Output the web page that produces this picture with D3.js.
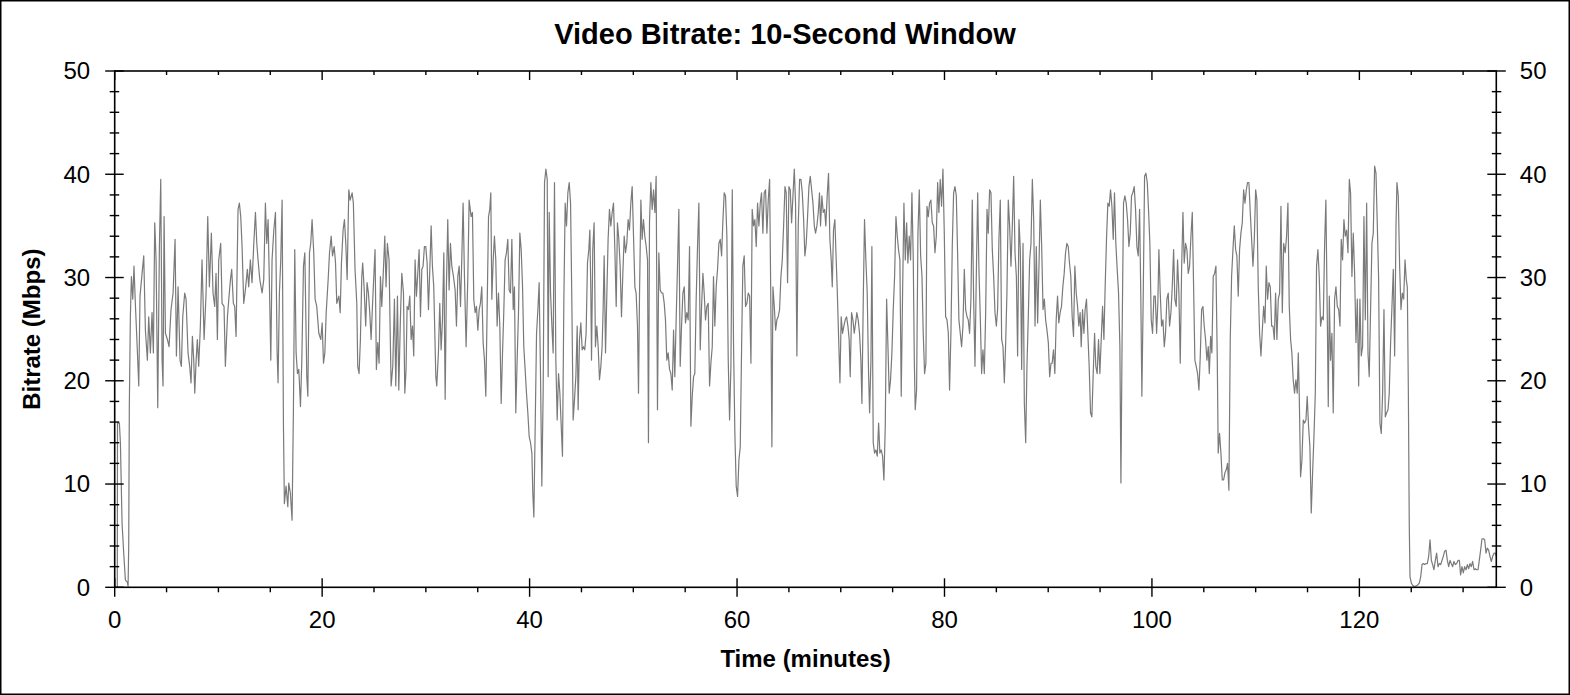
<!DOCTYPE html>
<html>
<head>
<meta charset="utf-8">
<script src="https://cdnjs.cloudflare.com/ajax/libs/d3/7.8.5/d3.min.js"></script>
<style>
  body { margin: 0; background: #fff; }
  svg text { font-family: Arial, "Liberation Sans", sans-serif; fill: #000; }
</style>
</head>
<body>
<svg id="chart" width="1570" height="695"></svg>
<script>
// chart texts
const chartTitle = "Video Bitrate: 10-Second Window";
const xLabel = "Time (minutes)";
const yLabel = "Bitrate (Mbps)";

// axes
const xMax = 133.2;               // minutes at the right edge of the plot
const yMax = 50;                  // Mbps at the top
const xMajorTicks = [0, 20, 40, 60, 80, 100, 120];
const xMinorTicks = [5, 10, 15, 25, 30, 35, 45, 50, 55, 65, 70, 75, 85, 90, 95, 105, 110, 115, 125, 130];
const yMajorTicks = [0, 10, 20, 30, 40, 50];
const yMinorTicks = [2, 4, 6, 8, 12, 14, 16, 18, 22, 24, 26, 28, 32, 34, 36, 38, 42, 44, 46, 48];

// [minute, Mbps]
const bitrate = [
  [0.25,0],[0.27,15.9],[0.45,15.9],[0.55,14.0],[0.71,6.2],[0.87,3.3],[1.03,0.7],[1.22,0.5],[1.29,0.1],[1.35,3.9],
  [1.41,17.5],[1.51,26.2],[1.61,30.1],[1.74,27.9],[1.86,31.1],[1.99,27.5],[2.15,23.7],[2.32,19.5],[2.44,28.2],[2.64,30.4],
  [2.80,32.1],[2.96,24.9],[3.15,22.0],[3.28,26.2],[3.44,22.7],[3.60,26.6],[3.73,22.7],[3.86,35.3],[3.99,31.7],[4.15,17.4],
  [4.31,33.0],[4.44,39.5],[4.57,22.0],[4.66,19.5],[4.76,35.9],[4.89,24.6],[5.08,24.0],[5.24,23.3],[5.43,26.9],[5.63,28.5],
  [5.82,33.7],[5.95,22.4],[6.11,29.1],[6.30,22.0],[6.43,21.4],[6.56,26.2],[6.75,28.5],[6.88,27.9],[7.07,22.7],[7.23,21.4],
  [7.36,19.8],[7.49,24.3],[7.62,22.0],[7.72,18.8],[7.85,22.0],[7.97,24.0],[8.10,21.4],[8.26,25.3],[8.42,31.7],[8.62,24.0],
  [8.81,28.5],[8.97,35.9],[9.13,29.1],[9.32,34.3],[9.48,28.5],[9.64,27.2],[9.77,30.4],[9.90,24.0],[10.03,31.7],[10.22,33.3],
  [10.35,27.5],[10.54,27.2],[10.67,21.4],[10.87,26.2],[11.00,27.9],[11.16,29.8],[11.28,30.8],[11.44,27.5],[11.57,27.2],[11.70,24.3],
  [11.89,36.6],[12.02,37.2],[12.15,35.9],[12.28,33.0],[12.44,27.5],[12.60,28.8],[12.79,30.8],[12.92,29.1],[13.08,31.7],[13.24,29.5],
  [13.41,33.3],[13.57,36.3],[13.70,33.3],[13.82,31.7],[13.99,29.8],[14.21,28.5],[14.37,29.8],[14.53,37.2],[14.66,33.3],[14.79,35.6],
  [14.92,29.1],[15.05,22.0],[15.17,31.7],[15.34,34.6],[15.50,36.3],[15.66,22.7],[15.75,19.8],[15.88,28.5],[16.01,31.7],[16.14,37.5],
  [16.27,15.6],[16.36,8.1],[16.52,9.8],[16.69,7.8],[16.78,10.1],[16.94,9.1],[17.10,6.5],[17.23,17.2],[17.36,32.7],[17.49,22.7],
  [17.62,20.7],[17.75,21.1],[17.91,17.5],[18.04,22.0],[18.20,31.1],[18.33,32.4],[18.52,20.4],[18.62,18.5],[18.78,32.4],[18.90,33.3],
  [19.03,35.6],[19.19,32.4],[19.32,27.9],[19.48,27.2],[19.68,24.6],[19.87,24.0],[20.0,25.6],[20.13,21.7],[20.26,22.7],[20.39,26.6],
  [20.58,29.8],[20.71,32.4],[20.87,34.0],[21.0,32.1],[21.16,33.0],[21.29,31.4],[21.41,27.5],[21.61,28.2],[21.74,26.6],[21.86,31.4],
  [22.02,34.6],[22.15,35.6],[22.28,33.3],[22.41,29.8],[22.57,38.5],[22.70,37.5],[22.89,38.2],
  [23.01,37.2],[23.17,30.8],[23.34,27.5],[23.43,21.4],[23.56,20.7],[23.69,24.0],[23.82,30.1],[23.91,31.4],[24.04,29.1],[24.20,25.3],
  [24.33,29.5],[24.46,28.5],[24.59,26.6],[24.72,24.0],[24.85,27.2],[24.98,30.1],[25.10,32.7],[25.23,21.1],[25.36,23.7],[25.49,21.7],
  [25.62,30.1],[25.75,27.2],[25.91,30.8],[26.04,34.0],[26.16,29.1],[26.29,33.3],[26.45,31.7],[26.55,25.3],[26.65,19.5],[26.81,21.4],
  [26.97,27.9],[27.10,19.5],[27.26,28.2],[27.39,19.1],[27.55,26.2],[27.68,30.4],[27.84,28.5],[27.97,18.8],[28.09,21.1],[28.19,27.2],
  [28.32,26.9],[28.45,28.2],[28.58,24.0],[28.71,25.3],[28.83,22.4],[28.96,31.7],[29.09,28.2],[29.22,30.4],[29.35,32.7],[29.48,26.2],
  [29.61,30.8],[29.73,31.1],[29.86,33.0],[29.99,33.0],[30.12,31.4],[30.25,26.9],[30.38,30.8],[30.51,35.0],[30.63,31.1],[30.76,29.1],
  [30.96,20.4],[31.05,19.5],[31.21,22.7],[31.34,27.5],[31.47,23.0],[31.60,25.9],[31.73,32.4],[31.86,18.2],[31.98,29.1],[32.11,35.6],
  [32.24,28.8],[32.37,33.3],[32.50,31.1],[32.66,30.1],[32.82,28.8],[32.95,25.3],[33.08,30.1],[33.21,31.1],[33.34,27.2],[33.46,31.7],
  [33.59,37.2],[33.72,30.1],[33.88,23.3],[34.04,29.8],[34.17,37.5],[34.36,35.9],[34.49,36.3],[34.62,27.9],[34.75,26.6],[34.88,27.2],
  [35.01,24.9],[35.14,26.9],[35.26,27.5],[35.39,29.1],[35.52,23.7],[35.65,22.0],[35.78,18.5],[35.91,27.2],[36.04,35.9],[36.16,36.6],
  [36.26,38.2],[36.36,27.9],[36.49,31.7],[36.61,34.0],[36.74,31.7],[36.87,25.3],[37.0,28.5],[37.13,25.3],[37.26,17.8],[37.39,22.7],
  [37.51,26.6],[37.64,31.7],[37.77,32.4],[37.90,33.7],[38.03,28.8],[38.16,28.5],[38.29,33.7],[38.42,26.9],[38.54,29.1],[38.67,16.9],
  [38.80,22.0],[38.93,26.6],[39.06,34.3],[39.19,32.7],[39.32,29.1],[39.44,23.3],[39.57,21.1],[39.70,18.8],[39.83,16.9],[39.96,14.6],
  [40.09,14.0],[40.22,13.0],[40.31,9.1],[40.41,6.8],[40.54,15.6],[40.67,24.6],[40.80,26.9],[40.92,29.5],[41.05,20.7],[41.18,9.8],
  [41.31,19.1],[41.44,39.2],[41.57,40.5],[41.70,39.5],[41.79,20.4],[41.89,36.3],[42.02,28.5],[42.15,25.3],[42.27,22.7],[42.40,39.2],
  [42.53,22.0],[42.66,16.2],[42.79,20.7],[42.92,18.8],[43.05,15.6],[43.17,12.7],[43.30,27.5],[43.43,37.2],[43.56,35.0],[43.69,38.2],
  [43.82,39.2],[43.95,37.2],[44.07,27.9],[44.20,16.2],[44.33,18.2],[44.46,20.4],[44.59,25.3],
  [44.68,17.2],[44.81,24.0],[44.94,25.6],[45.07,23.0],[45.19,23.3],[45.32,23.0],[45.45,24.6],[45.58,31.4],[45.71,32.7],[45.81,34.6],
  [45.90,28.8],[45.97,22.0],[46.09,32.7],[46.22,35.3],[46.35,23.3],[46.48,25.3],[46.61,23.3],[46.74,20.1],[46.87,21.4],[46.99,23.3],
  [47.09,26.9],[47.19,32.1],[47.32,22.7],[47.45,28.5],[47.57,33.7],[47.70,36.6],[47.83,35.0],[47.96,36.3],[48.09,37.2],[48.22,32.7],
  [48.35,27.2],[48.47,35.3],[48.60,33.7],[48.73,31.1],[48.86,26.2],[48.99,30.4],[49.12,34.0],[49.25,32.4],[49.37,33.3],[49.50,35.6],
  [49.63,34.6],[49.76,37.2],[49.89,38.8],[50.02,34.0],[50.15,29.1],[50.27,28.5],[50.40,25.3],[50.50,18.8],[50.60,28.5],[50.73,37.5],
  [50.85,33.7],[50.98,35.6],[51.11,34.0],[51.24,33.0],[51.37,31.7],[51.46,14.0],[51.56,35.3],[51.69,39.2],[51.82,36.6],[51.95,38.5],
  [52.08,36.3],[52.20,39.8],[52.33,17.2],[52.46,32.4],[52.59,28.8],[52.72,28.5],[52.85,28.5],[52.98,27.5],[53.10,25.9],[53.23,22.0],
  [53.36,22.7],[53.49,21.1],[53.62,20.7],[53.75,19.1],[53.88,24.9],[54.0,20.4],[54.13,25.9],[54.26,31.1],[54.39,36.6],[54.52,21.4],
  [54.65,25.3],[54.78,28.5],[54.91,29.1],[55.03,25.6],[55.16,26.6],[55.29,25.9],[55.42,33.0],[55.55,15.6],[55.68,18.5],[55.81,20.4],
  [55.93,20.7],[56.06,27.9],[56.19,33.0],[56.32,37.2],[56.45,23.0],[56.58,27.2],[56.71,30.4],[56.83,28.5],[56.96,25.9],[57.09,27.2],
  [57.22,27.5],[57.35,19.5],[57.48,21.7],[57.61,23.3],[57.73,30.1],[57.86,25.3],[57.99,29.1],[58.12,30.8],[58.25,33.3],[58.38,33.7],
  [58.51,32.1],[58.63,35.3],[58.76,38.2],[58.89,37.9],[59.02,34.0],[59.15,22.0],[59.28,16.2],[59.41,21.4],[59.54,38.5],[59.66,23.7],
  [59.79,14.9],[59.92,9.8],[60.05,8.8],[60.18,12.3],[60.31,13.6],[60.44,23.3],[60.56,31.1],[60.69,32.1],[60.82,27.2],[60.95,27.5],
  [61.08,28.5],[61.21,28.2],[61.34,21.7],[61.46,36.6],[61.59,35.0],[61.72,35.6],[61.85,33.0],[61.98,37.2],[62.11,35.0],[62.24,37.2],
  [62.36,38.2],[62.49,34.3],[62.62,38.2],[62.75,38.5],[62.88,34.3],[63.01,37.5],[63.14,39.5],[63.27,26.2],[63.36,13.6],[63.46,29.1],
  [63.59,27.2],[63.72,24.9],[63.84,25.9],[63.97,26.2],[64.10,26.9],[64.23,30.1],[64.36,31.7],[64.49,35.0],[64.62,38.8],[64.74,38.2],
  [64.87,29.5],[65.0,38.8],[65.13,38.5],[65.26,35.3],[65.39,37.9],[65.52,40.5],[65.64,37.2],[65.77,22.4],[65.90,35.0],[66.03,39.5],
  [66.16,39.5],[66.29,38.2],[66.42,35.6],[66.54,32.1],[66.67,33.3],[66.80,35.9],[66.93,38.8],[67.06,39.8],[67.19,38.5],[67.32,37.2],
  [67.45,35.0],[67.57,34.3],[67.70,35.0],[67.83,36.3],
  [67.95,38.2],[68.05,35.0],[68.18,37.9],[68.31,36.3],[68.44,36.6],[68.56,35.0],[68.69,37.9],[68.82,40.1],[68.95,33.7],[69.08,31.7],
  [69.18,29.1],[69.30,34.6],[69.43,35.6],[69.56,31.7],[69.66,28.8],[69.79,24.3],[69.92,19.8],[70.04,26.2],[70.17,24.6],[70.30,25.3],
  [70.43,25.9],[70.56,26.2],[70.69,25.3],[70.81,24.0],[70.91,20.4],[71.04,26.6],[71.17,25.9],[71.30,24.6],[71.43,25.6],[71.55,26.6],
  [71.68,25.9],[71.81,24.6],[71.94,22.0],[72.04,17.8],[72.17,27.9],[72.29,35.6],[72.42,31.7],[72.55,28.5],[72.68,20.7],[72.78,16.9],
  [72.91,22.0],[73.0,33.0],[73.13,14.0],[73.26,13.0],[73.39,13.3],[73.52,12.7],[73.65,15.9],[73.77,13.0],[73.90,13.3],[74.03,12.7],
  [74.16,10.4],[74.29,15.6],[74.42,27.9],[74.55,23.3],[74.67,18.8],[74.80,20.1],[74.93,22.7],[75.06,26.9],[75.19,30.1],[75.32,35.9],
  [75.45,34.0],[75.57,32.7],[75.70,31.7],[75.83,18.5],[75.96,28.5],[76.09,37.2],[76.22,31.7],[76.35,35.3],[76.47,31.4],[76.60,34.0],
  [76.73,31.7],[76.86,38.2],[76.99,31.7],[77.09,22.0],[77.18,17.2],[77.31,19.1],[77.44,34.3],[77.57,38.5],[77.70,32.1],[77.83,30.1],
  [77.95,24.6],[78.08,20.7],[78.21,21.7],[78.31,36.9],[78.44,35.9],[78.56,37.2],[78.69,37.5],[78.82,35.3],[78.95,35.0],[79.08,32.4],
  [79.21,34.0],[79.34,39.2],[79.46,36.3],[79.59,39.5],[79.72,36.9],[79.85,40.5],[79.98,34.3],[80.11,26.2],[80.24,25.9],[80.37,24.6],
  [80.49,19.1],[80.62,24.6],[80.75,33.0],[80.88,38.2],[81.01,38.8],[81.14,37.9],[81.27,32.1],[81.39,25.9],[81.52,24.6],[81.65,23.3],
  [81.78,25.3],[81.91,30.8],[82.04,26.9],[82.17,26.2],[82.29,25.9],[82.42,24.6],[82.55,27.9],[82.68,37.5],[82.81,27.9],[82.94,21.4],
  [83.07,30.4],[83.20,38.2],[83.32,30.8],[83.45,26.2],[83.58,20.7],[83.71,23.0],[83.84,20.7],[83.97,26.6],[84.10,36.6],[84.22,34.3],
  [84.35,38.5],[84.48,38.2],[84.61,32.7],[84.74,30.1],[84.87,26.6],[85.0,25.3],[85.12,26.9],[85.25,33.7],[85.38,37.5],[85.51,24.0],
  [85.64,23.3],[85.77,19.8],[85.90,23.7],[86.02,28.5],[86.15,37.5],[86.28,35.0],[86.41,31.1],[86.54,35.0],[86.67,39.8],[86.80,32.4],
  [86.93,30.1],[87.05,22.4],[87.18,35.6],[87.31,32.7],[87.44,21.1],[87.57,33.3],[87.70,17.8],[87.83,14.0],[87.95,21.4],[88.08,26.2],
  [88.21,31.7],[88.34,33.3],[88.47,39.5],[88.60,35.6],[88.73,25.3],[88.85,33.0],[88.98,25.6],[89.11,31.1],[89.24,37.5],[89.37,33.0],
  [89.50,26.9],[89.63,27.9],[89.75,25.9],[89.88,24.9],[90.01,23.7],[90.14,20.4],[90.27,21.7],
  [90.38,21.7],[90.51,23.0],[90.64,20.7],[90.77,25.9],[90.90,28.2],[91.02,25.6],[91.15,26.6],[91.28,27.2],[91.41,29.1],[91.54,30.4],
  [91.67,32.4],[91.80,33.3],[91.93,33.0],[92.05,31.4],[92.18,30.1],[92.31,26.2],[92.44,24.3],[92.57,31.1],[92.70,28.5],[92.83,27.2],
  [92.95,25.3],[93.08,26.6],[93.18,23.3],[93.31,26.9],[93.44,24.6],[93.56,26.9],[93.69,27.9],[93.82,24.6],[93.95,21.4],[94.08,16.9],
  [94.21,16.5],[94.34,20.7],[94.47,24.6],[94.59,21.4],[94.72,20.7],[94.85,24.0],[94.98,20.7],[95.11,24.0],[95.24,27.2],[95.37,24.0],
  [95.49,29.1],[95.62,33.7],[95.75,37.2],[95.88,36.9],[96.01,38.5],[96.14,36.9],[96.27,33.7],[96.39,38.2],[96.52,33.3],[96.65,30.8],
  [96.78,28.5],[96.91,23.3],[97.01,10.1],[97.13,24.9],[97.26,37.2],[97.39,37.9],[97.52,37.2],[97.65,35.6],[97.78,33.0],[97.91,34.3],
  [98.03,37.9],[98.16,38.2],[98.29,38.8],[98.42,36.6],[98.55,33.0],[98.68,32.1],[98.81,36.6],[98.93,27.9],[99.03,18.5],[99.16,28.2],
  [99.29,39.8],[99.42,40.1],[99.55,39.2],[99.67,36.6],[99.80,33.3],[99.93,25.9],[100.06,24.6],[100.19,28.2],[100.32,28.2],[100.45,24.6],
  [100.57,27.5],[100.67,32.7],[100.80,28.5],[100.93,25.3],[101.06,25.9],[101.19,23.3],[101.31,24.6],[101.44,27.9],[101.57,28.5],[101.70,25.3],
  [101.83,26.6],[101.96,29.1],[102.09,32.7],[102.21,27.9],[102.34,27.2],[102.47,31.7],[102.60,28.5],[102.73,21.7],[102.86,30.8],[102.99,36.3],
  [103.11,31.4],[103.24,33.3],[103.37,32.7],[103.50,30.4],[103.63,31.1],[103.76,34.0],[103.89,36.3],[104.01,29.5],[104.14,22.0],[104.27,21.4],
  [104.40,20.7],[104.53,19.1],[104.66,22.4],[104.79,26.9],[104.92,27.2],[105.04,25.3],[105.17,24.0],[105.30,22.0],[105.43,23.3],[105.53,20.7],
  [105.66,24.3],[105.78,22.7],[105.91,30.1],[106.04,30.4],[106.17,31.1],[106.30,22.0],[106.39,13.0],[106.52,14.9],[106.65,13.0],[106.78,10.4],
  [106.91,10.4],[107.04,11.1],[107.17,11.4],[107.29,12.0],[107.42,9.4],[107.55,24.0],[107.68,30.1],[107.81,32.7],[107.94,35.0],[108.07,32.7],
  [108.19,32.1],[108.32,28.2],[108.45,32.7],[108.58,34.3],[108.71,35.3],[108.84,38.5],[108.97,37.2],[109.10,38.5],[109.22,39.2],[109.35,39.2],
  [109.48,36.3],[109.61,33.7],[109.74,31.1],[109.87,33.7],[110.0,38.5],[110.12,37.5],[110.25,29.1],[110.38,24.6],[110.51,22.4],[110.64,24.9],
  [110.77,27.2],[110.90,25.6],[111.02,31.1],[111.15,27.9],[111.28,29.5],[111.41,29.1],[111.54,25.3],[111.67,25.3],[111.80,24.0],[111.92,28.5],
  [112.05,24.0],[112.18,27.9],[112.31,28.5],[112.44,36.9],[112.57,26.6],[112.70,33.3],
  [112.85,32.4],[112.98,34.0],[113.11,37.2],[113.24,27.2],[113.37,24.0],[113.49,22.7],[113.62,20.1],[113.75,18.8],[113.88,20.1],[114.01,18.8],
  [114.11,22.7],[114.20,18.8],[114.33,10.7],[114.46,12.3],[114.59,16.2],[114.72,15.9],[114.85,16.2],[114.97,18.5],[115.10,15.6],[115.23,13.6],
  [115.36,7.2],[115.49,11.1],[115.62,14.6],[115.75,18.8],[115.87,31.1],[116.0,32.7],[116.13,30.1],[116.26,25.3],[116.39,26.2],[116.52,25.9],
  [116.65,33.3],[116.77,37.5],[116.90,26.6],[117.0,17.5],[117.10,28.2],[117.22,22.0],[117.35,24.6],[117.48,16.9],[117.61,27.9],[117.74,29.1],
  [117.87,27.2],[118.0,26.9],[118.13,25.3],[118.25,33.7],[118.38,31.7],[118.51,35.6],[118.64,34.0],[118.77,34.6],[118.90,32.4],[119.03,39.5],
  [119.15,38.2],[119.28,30.1],[119.41,34.3],[119.54,30.4],[119.67,23.7],[119.80,27.9],[119.93,19.5],[120.05,27.9],[120.18,22.4],[120.31,23.3],
  [120.44,35.9],[120.57,25.9],[120.70,37.2],[120.83,22.7],[120.95,20.4],[121.08,26.9],[121.21,33.3],[121.34,34.3],[121.47,40.8],[121.60,40.1],
  [121.73,35.0],[121.85,30.1],[121.98,15.9],[122.11,14.9],[122.24,18.8],[122.37,26.9],[122.50,16.5],[122.63,16.9],[122.76,17.2],[122.88,18.8],
  [123.01,23.7],[123.14,27.2],[123.27,30.8],[123.40,22.4],[123.53,35.0],[123.62,39.2],[123.75,37.9],[123.88,31.1],[124.01,26.9],[124.14,28.5],
  [124.27,27.9],[124.40,31.7],[124.52,29.8],[124.62,29.1],[124.72,19.1],[124.81,5.9],[124.88,1.0],[125.01,0.4],[125.13,0.2],[125.26,0.1],
  [125.39,0.1],[125.58,0.2],[125.78,0.4],[125.91,1.0],[126.04,2.2],[126.16,2.3],[126.29,2.2],[126.42,2.3],[126.55,2.3],[126.68,3.0],
  [126.81,4.6],[126.94,2.6],[127.06,2.2],[127.19,1.7],[127.32,2.6],[127.45,3.3],[127.58,2.0],[127.71,2.3],[127.84,2.2],[127.96,2.6],
  [128.09,3.0],[128.22,3.5],[128.35,3.6],[128.48,2.6],[128.61,2.0],[128.74,2.6],[128.86,2.3],[128.99,2.0],[129.12,2.5],[129.25,2.2],
  [129.38,2.3],[129.51,2.6],[129.64,2.6],[129.76,1.2],[129.89,2.0],[130.02,1.4],[130.15,2.0],[130.28,1.7],[130.41,2.2],[130.54,1.8],
  [130.66,2.3],[130.79,2.0],[130.92,2.5],[131.05,1.7],[131.18,1.8],[131.31,1.7],[131.44,1.7],[131.56,2.6],[131.69,3.6],[131.82,4.7],
  [131.95,4.7],[132.08,4.6],[132.21,3.3],[132.33,3.8],[132.46,3.6],[132.59,3.0],[132.72,2.5],[132.85,3.0],[132.98,3.3],[133.11,3.3],
  [133.20,3.0]
];

const svg = d3.select("#chart");
const plot = { left: 114.7, right: 1496.3, top: 71, bottom: 587.3 };

const x = d3.scaleLinear().domain([0, xMax]).range([plot.left, plot.right]);
const y = d3.scaleLinear().domain([0, yMax]).range([plot.bottom, plot.top]);

// outer frame
svg.append("rect")
  .attr("x", 0.75).attr("y", 0.75)
  .attr("width", 1568.5).attr("height", 693.5)
  .attr("fill", "#fff")
  .attr("stroke", "#000")
  .attr("stroke-width", 1.5);

// title
svg.append("text")
  .attr("x", 785).attr("y", 44)
  .attr("text-anchor", "middle")
  .style("font-size", "29px")
  .style("font-weight", "bold")
  .text(chartTitle);

// bitrate trace
const line = d3.line()
  .x(d => x(d[0]))
  .y(d => y(d[1]));

svg.append("path")
  .datum(bitrate)
  .attr("d", line)
  .attr("fill", "none")
  .attr("stroke", "#7a7a7a")
  .attr("stroke-width", 1.2)
  .attr("stroke-linejoin", "round");

// axes frame
const axes = svg.append("g")
  .attr("stroke", "#000")
  .attr("fill", "none");

axes.append("rect")
  .attr("x", plot.left).attr("y", plot.top)
  .attr("width", plot.right - plot.left)
  .attr("height", plot.bottom - plot.top)
  .attr("stroke-width", 1.6);

// tick helper: draws short segments for each value
function ticks(values, pos, a, b, vertical) {
  axes.selectAll(null)
    .data(values)
    .join("line")
    .attr("stroke-width", 1.4)
    .attr("x1", d => vertical ? pos(d) : a)
    .attr("x2", d => vertical ? pos(d) : b)
    .attr("y1", d => vertical ? a : pos(d))
    .attr("y2", d => vertical ? b : pos(d));
}

// left and right: major cross the axis, minor short crossing
ticks(yMajorTicks, y, plot.left - 9.5, plot.left + 9, false);
ticks(yMinorTicks, y, plot.left - 5, plot.left + 4.5, false);
ticks(yMajorTicks, y, plot.right - 9, plot.right + 9.5, false);
ticks(yMinorTicks, y, plot.right - 4.5, plot.right + 5, false);

// bottom: major cross, minor hang below; top: inward only
ticks(xMajorTicks, x, plot.bottom - 9, plot.bottom + 9.5, true);
ticks(xMinorTicks, x, plot.bottom, plot.bottom + 5, true);
ticks(xMajorTicks, x, plot.top, plot.top + 9, true);
ticks(xMinorTicks, x, plot.top, plot.top + 4, true);

// tick labels
const labels = svg.append("g").style("font-size", "24px");

labels.selectAll(".yl")
  .data(yMajorTicks)
  .join("text")
  .attr("x", plot.left - 24.5)
  .attr("y", d => y(d))
  .attr("dy", "0.35em")
  .attr("text-anchor", "end")
  .text(d => d);

labels.selectAll(".yr")
  .data(yMajorTicks)
  .join("text")
  .attr("x", plot.right + 23.5)
  .attr("y", d => y(d))
  .attr("dy", "0.35em")
  .attr("text-anchor", "start")
  .text(d => d);

labels.selectAll(".xl")
  .data(xMajorTicks)
  .join("text")
  .attr("x", d => x(d))
  .attr("y", 628)
  .attr("text-anchor", "middle")
  .text(d => d);

// axis titles
svg.append("text")
  .attr("x", (plot.left + plot.right) / 2)
  .attr("y", 667)
  .attr("text-anchor", "middle")
  .style("font-size", "24px")
  .style("font-weight", "bold")
  .text(xLabel);

svg.append("text")
  .attr("transform", `translate(40,${(plot.top + plot.bottom) / 2}) rotate(-90)`)
  .attr("text-anchor", "middle")
  .style("font-size", "24px")
  .style("font-weight", "bold")
  .text(yLabel);
</script>
</body>
</html>
